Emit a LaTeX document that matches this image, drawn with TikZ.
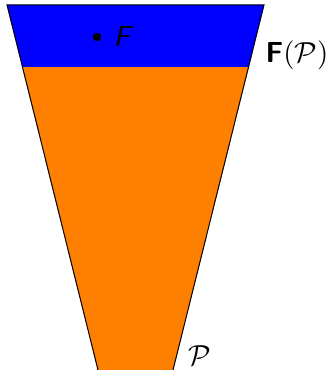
\documentclass[tikz,border=0pt]{standalone}
\usepackage{amsmath}
\usepackage{tikz}
\usetikzlibrary{calc}
\definecolor{bandblue}{HTML}{0000FF}
\definecolor{coneorange}{HTML}{FF8000}

\begin{document}
\begin{tikzpicture}[x=0.345pt,y=0.345pt]
\useasboundingbox (0,0) rectangle (329,370);
% corners of the cone and of the top band
\coordinate (topleft) at (7,365);
\coordinate (topright) at (264,365);
\coordinate (botleft) at (98,0);
\coordinate (botright) at (173,0);
\coordinate (bandleft) at (22.5,303);
\coordinate (bandright) at (248.5,303);
\fill[coneorange] (botleft) -- (bandleft) -- (bandright) -- (botright) -- cycle;
\fill[bandblue] (bandleft) -- (topleft) -- (topright) -- (bandright) -- cycle;
\draw[line width=0.35pt] (botleft) -- (topleft) -- (topright) -- (botright);
\fill (97,333) coordinate (pointF) circle (4.2);
\node[anchor=west,inner sep=0pt] (labelF) at (113,333) {\textsf{\textit{F}}};
\node[anchor=west,inner sep=0pt] (labelFP) at (265,315) {\textsf{\textbf{F}}$(\mathcal{P})$};
\node[inner sep=0pt] (labelP) at (200,14) {$\mathcal{P}$};
\end{tikzpicture}
\end{document}
